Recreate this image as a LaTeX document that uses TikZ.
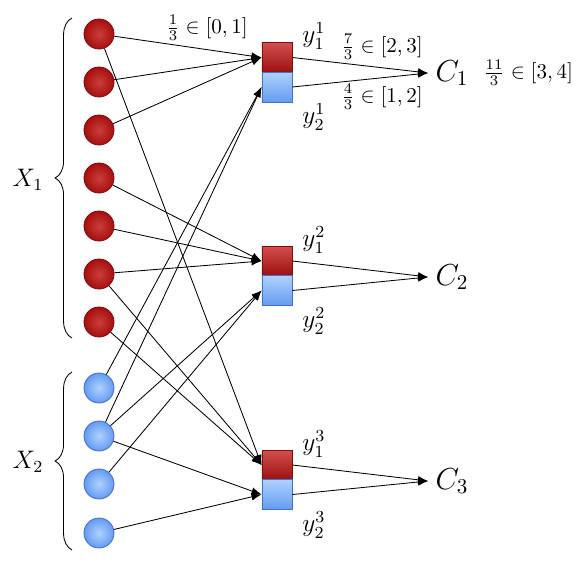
\documentclass[tikz,border=0pt]{standalone}
\usepackage{amsmath, amssymb}
\usepackage{tikz}
\usetikzlibrary{arrows.meta, decorations.pathreplacing, shapes.geometric}
\tikzset{>={Latex[scale=1]}}

\definecolor{ballred}{RGB}{205,60,60}
\definecolor{ballredout}{RGB}{165,15,15}
\definecolor{edgered}{RGB}{140,10,10}
\definecolor{ballblue}{RGB}{175,210,255}
\definecolor{ballblueout}{RGB}{100,155,240}
\definecolor{edgeblue}{RGB}{65,115,205}

\tikzset{
    redball/.style={circle, minimum size=0.5cm, inner sep=0pt, draw=edgered,
        inner color=ballred, outer color=ballredout},
    blueball/.style={circle, minimum size=0.5cm, inner sep=0pt, draw=edgeblue,
        inner color=ballblue, outer color=ballblueout},
    redbox/.style={rectangle, minimum width=0.5cm, minimum height=0.5cm, inner sep=0pt,
        draw=edgered, top color=ballred!90!white, bottom color=ballredout!95!black},
    bluebox/.style={rectangle, minimum width=0.5cm, minimum height=0.5cm, inner sep=0pt,
        draw=edgeblue, top color=ballblue, bottom color=ballblueout},
    setbrace/.style={decorate, decoration={brace, amplitude=8pt}}
}

\begin{document}
\begin{tikzpicture}[x=0.01667cm, y=-0.01667cm]
                \useasboundingbox (0,0) rectangle (576,568);

                % red points of X_1
                \node[redball] (r1) at (99,34) {};
                \node[redball] (r2) at (99,82) {};
                \node[redball] (r3) at (99,130) {};
                \node[redball] (r4) at (99,178) {};
                \node[redball] (r5) at (99,226) {};
                \node[redball] (r6) at (99,274) {};
                \node[redball] (r7) at (99,322) {};

                % blue points of X_2
                \node[blueball] (b1) at (99,388) {};
                \node[blueball] (b2) at (99,436) {};
                \node[blueball] (b3) at (99,484) {};
                \node[blueball] (b4) at (99,533) {};

                % boxes
                \node[redbox] (top1) at (277,57.5) {};
                \node[bluebox] (bot1) at (277,87) {};
                \node[redbox] (top2) at (277,261) {};
                \node[bluebox] (bot2) at (277,290.5) {};
                \node[redbox] (top3) at (277,465) {};
                \node[bluebox] (bot3) at (277,494.5) {};

                \node (ly11) at (314,36) {\large $y_1^1$};
                \node (ly21) at (314,117) {\large $y_2^1$};
                \node (ly12) at (314,240) {\large $y_1^2$};
                \node (ly22) at (314,321) {\large $y_2^2$};
                \node (ly13) at (314,444) {\large $y_1^3$};
                \node (ly23) at (314,525) {\large $y_2^3$};

                \node (c1) at (452,73) {\Large $C_1$};
                \node (c2) at (452,277) {\Large $C_2$};
                \node (c3) at (452,481) {\Large $C_3$};

                \node (x1) at (28,180) {\large $X_1$};
                \node (x2) at (28,462) {\large $X_2$};

                \node (w1) at (207,28) {$\frac{1}{3} \in [0,1]$};
                \node (w2) at (382,47) {$\frac{7}{3} \in [2,3]$};
                \node (w3) at (382,97) {$\frac{4}{3} \in [1,2]$};
                \node (w4) at (528,73) {$\frac{11}{3} \in [3,4]$};

                \draw[setbrace] (72,338) -- (72,18);
                \draw[setbrace] (72,550) -- (72,372);

                % X_1 to boxes
                \draw[->] (r1) -- (top1.west);
                \draw[->] (r2) -- (top1.west);
                \draw[->] (r3) -- (top1.west);
                \draw[->] (r4) -- (top2.west);
                \draw[->] (r5) -- (top2.west);
                \draw[->] (r6) -- (top2.west);
                \draw[->] (r1) -- (top3.west);
                \draw[->] (r6) -- (top3.west);
                \draw[->] (r7) -- (top3.west);

                % X_2 to boxes
                \draw[->] (b1) -- (bot1.west);
                \draw[->] (b2) -- (bot1.west);
                \draw[->] (b2) -- (bot2.west);
                \draw[->] (b3) -- (bot2.west);
                \draw[->] (b2) -- (bot3.west);
                \draw[->] (b4) -- (bot3.west);

                % boxes to C
                \draw[->] (top1.east) -- (c1.west);
                \draw[->] (bot1.east) -- (c1.west);
                \draw[->] (top2.east) -- (c2.west);
                \draw[->] (bot2.east) -- (c2.west);
                \draw[->] (top3.east) -- (c3.west);
                \draw[->] (bot3.east) -- (c3.west);

            \end{tikzpicture}
\end{document}
